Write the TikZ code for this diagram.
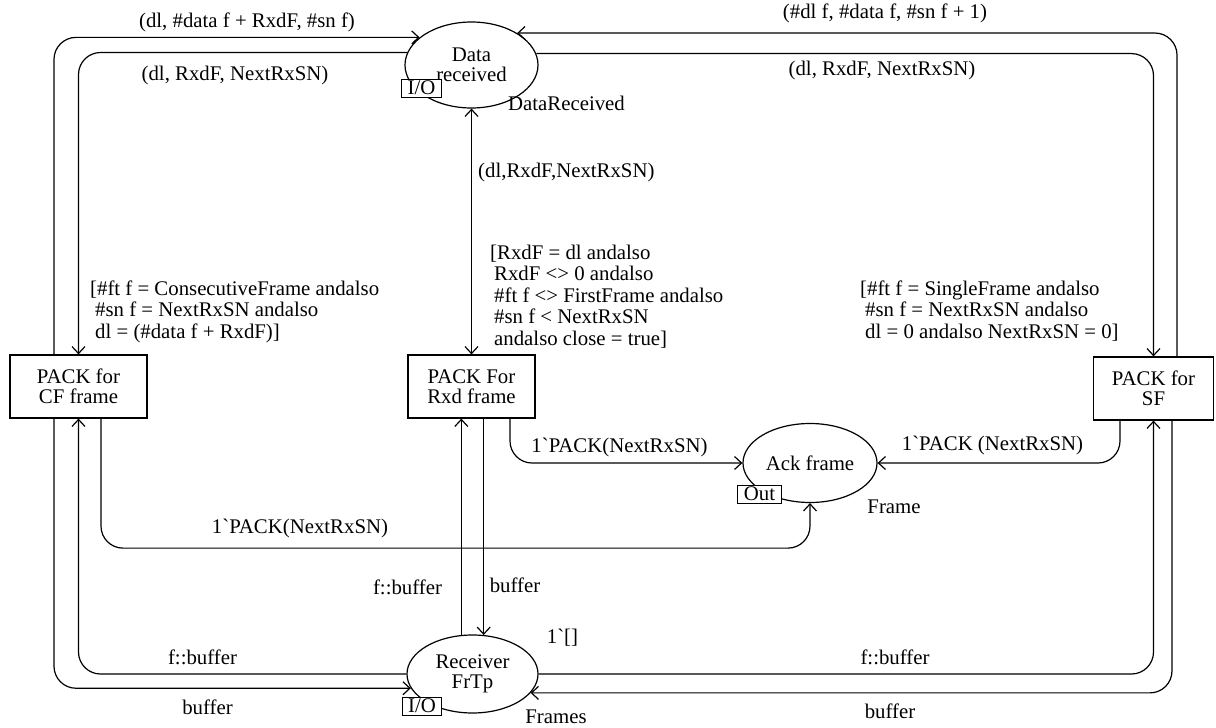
\documentclass[tikz,border=0pt]{standalone}
\usepackage{fontspec}
\setmainfont{Liberation Serif}[Ligatures=TeXOff]
\usetikzlibrary{arrows.meta,shapes.geometric}
\begin{document}
\begin{tikzpicture}[x=1pt,y=-1pt,
  >={Straight Barb[length=7pt,width=13pt]},
  every node/.style={font=\fontsize{20.8}{20}\selectfont},
  place/.style={ellipse,draw,line width=1.2pt,inner sep=0pt,align=center},
  trans/.style={rectangle,draw,line width=1.2pt,inner sep=0pt,align=center,minimum height=63pt},
  tag/.style={rectangle,draw,fill=white,line width=1pt,inner xsep=6pt,inner ysep=0pt,minimum height=18pt},
  arc/.style={line width=1.2pt,rounded corners=22pt,->},
  lbl/.style={inner sep=0pt},
  guard/.style={inner sep=0pt,align=left,anchor=north west,font=\fontsize{20.8}{21.5}\selectfont},
]
\useasboundingbox (0,0) rectangle (1216,728);

% places
\node[place,minimum width=133pt,minimum height=86pt] (DR) at (471.5,65) {Data\\received};
\node[place,minimum width=131pt,minimum height=78pt] (RF) at (472.5,674) {Receiver\\FrTp};
\node[place,minimum width=134pt,minimum height=79pt] (AF) at (810,463) {Ack frame};

% transitions
\node[trans,minimum width=137pt] (CF) at (78.5,386.5) {PACK for\\CF frame};
\node[trans,minimum width=127pt] (RX) at (471.5,386.5) {PACK For\\Rxd frame};
\node[trans,minimum width=120pt] (SF) at (1153.5,388.5) {PACK for\\SF};

% arcs around Data received
\draw[arc] ([xshift=-24.5pt]CF.north) |- (DR.152.45);
\draw[arc] (DR.169.36) -| (CF.north);
\draw[arc] ([xshift=23.5pt]SF.north) |- (DR.35.77);
\draw[arc] (DR.10.64) -| (SF.north);
\draw[arc,<->] (DR.south) -- (RX.north);

% arcs around Receiver FrTp
\draw[arc] ([xshift=-24.5pt]CF.south) |- (RF.193.93);
\draw[arc] (RF.west) -| (CF.south);
\draw[arc] ([xshift=18.5pt]SF.south) |- (RF.-18.38);
\draw[arc] (RF.east) -| (SF.south);
\draw[arc] (RF.106.67) -- (RF.106.67 |- RX.south);
\draw[arc] (RX.south -| RF.74.74) -- (RF.74.74);

% arcs into Ack frame
\draw[arc] ([xshift=22.5pt]CF.south) |- ([yshift=-45pt]AF.south) -- (AF.south);
\draw[arc] ([xshift=38.5pt]RX.south) |- (AF.west);
\draw[arc] ([xshift=-33.5pt]SF.south) |- (AF.east);

% port tags
\node[tag] (DRio) at (421.5,88) {I/O};
\node[tag] (RFio) at (422,706) {I/O};
\node[tag] (AFout) at (759.5,494) {Out};

% arc inscriptions
\node[lbl] (t1) at (247,22) {(dl, \#data f + RxdF, \#sn f)};
\node[lbl] (t2) at (235,75) {(dl, RxdF, NextRxSN)};
\node[lbl] (t3) at (885,13) {(\#dl f, \#data f, \#sn f + 1)};
\node[lbl] (t4) at (882,70) {(dl, RxdF, NextRxSN)};
\node[lbl,anchor=west] (t5) at (478,172) {(dl,RxdF,NextRxSN)};
\node[lbl] (t6) at (566.5,103) {DataReceived};

% guards
\node[guard] (g1) at (90,280.5) {[\#ft f = ConsecutiveFrame andalso\\\hspace*{5pt}\#sn f = NextRxSN andalso\\\hspace*{5pt}dl = (\#data f + RxdF)]};
\node[guard] (g2) at (490,244.5) {[RxdF = dl andalso\\\hspace*{4pt}RxdF <> 0 andalso\\\hspace*{4pt}\#ft f <> FirstFrame andalso\\\hspace*{4pt}\#sn f < NextRxSN\\\hspace*{4pt}andalso close = true]};
\node[guard] (g3) at (860,280.5) {[\#ft f = SingleFrame andalso\\\hspace*{5pt}\#sn f = NextRxSN andalso\\\hspace*{5pt}dl = 0 andalso NextRxSN = 0]};

% lower inscriptions
\node[lbl] (t7) at (619.5,447) {1`PACK(NextRxSN)};
\node[lbl] (t8) at (992.5,445) {1`PACK (NextRxSN)};
\node[lbl] (t9) at (894,507) {Frame};
\node[lbl] (t10) at (300,528) {1`PACK(NextRxSN)};
\node[lbl] (t11) at (407.5,587) {f::buffer};
\node[lbl] (t12) at (515,585) {buffer};
\node[lbl] (t13) at (562.5,638) {1`[]};
\node[lbl] (t14) at (202.5,657) {f::buffer};
\node[lbl] (t15) at (207.5,707) {buffer};
\node[lbl] (t16) at (895,657) {f::buffer};
\node[lbl] (t17) at (890,711) {buffer};
\node[lbl] (t18) at (556,717) {Frames};
\end{tikzpicture}
\end{document}
